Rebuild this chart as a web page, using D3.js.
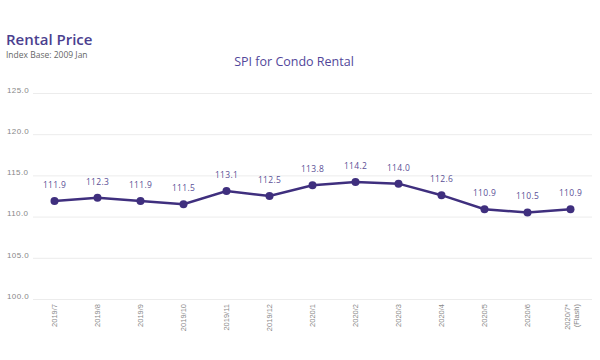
<!DOCTYPE html>
<html><head><meta charset="utf-8">
<script src="https://cdn.jsdelivr.net/npm/d3@7"></script>
<style>body{margin:0;background:#fff;} svg{display:block;font-family:"Open Sans",Lato,sans-serif;}</style>
</head><body>
<svg id="c" width="600" height="360"></svg>
<script>
const categories = ["2019/7","2019/8","2019/9","2019/10","2019/11","2019/12","2020/1","2020/2","2020/3","2020/4","2020/5","2020/6","2020/7*|(Flash)"];
const values = [111.9,112.3,111.9,111.5,113.1,112.5,113.8,114.2,114.0,112.6,110.9,110.5,110.9];
const yTicks = [100,105,110,115,120,125];

(function(){
const svg = d3.select("#c");
const mLeft = 33, mRight = 592, mTop = 93, mBottom = 299;
const x = d3.scalePoint().domain(categories).range([mLeft, mRight]).padding(0.5);
const y = d3.scaleLinear().domain([100,125]).range([mBottom, mTop]);

// titles
svg.append("text").attr("x",6).attr("y",45).attr("font-size",15).attr("font-weight",600).attr("fill","#4b3f8f").text("Rental Price");
svg.append("text").attr("x",6).attr("y",58).attr("font-size",8.5).attr("fill","#666").text("Index Base: 2009 Jan");
svg.append("text").attr("x",294).attr("y",66).attr("text-anchor","middle").attr("font-size",12.5).attr("fill","#52479a").text("SPI for Condo Rental");

// y axis
const yAxis = d3.axisLeft(y).tickValues(yTicks).tickSize(-(mRight-mLeft)).tickFormat(d3.format(".1f"));
const ga = svg.append("g").attr("transform",`translate(${mLeft},0)`).call(yAxis);
ga.select(".domain").remove();
ga.selectAll(".tick line").attr("stroke","#ececec").attr("stroke-width",1);
ga.selectAll(".tick text").attr("x",-26).attr("dy","-0.1em").attr("text-anchor","start").attr("fill","#888").attr("font-size",8).attr("letter-spacing",0.4);

// x axis
const xAxis = d3.axisBottom(x).tickSize(0).tickFormat(d => "");
const gx = svg.append("g").attr("transform",`translate(0,${mBottom})`).call(xAxis);
gx.select(".domain").remove();
gx.selectAll(".tick").each(function(d){
  const parts = d.split("|");
  const t = d3.select(this).append("text").attr("transform","rotate(-90)").attr("text-anchor","end")
    .attr("fill","#888").attr("font-size",7.5).attr("x",-5).attr("y",0);
  parts.forEach((p,i)=>{
    t.append("tspan").attr("x",-5).attr("dy", i===0 ? (parts.length>1 ? "-0.1em" : "0.32em") : "1.15em").text(p);
  });
});

// line
const line = d3.line().x((d,i)=>x(categories[i])).y(d=>y(d));
svg.append("path").datum(values).attr("d",line).attr("fill","none").attr("stroke","#3f2f7e").attr("stroke-width",2.5);
svg.selectAll("circle.pt").data(values).join("circle").attr("class","pt")
  .attr("cx",(d,i)=>x(categories[i])).attr("cy",d=>y(d)).attr("r",4).attr("fill","#3f2f7e");
svg.selectAll("text.lbl").data(values).join("text").attr("class","lbl")
  .attr("x",(d,i)=>x(categories[i])).attr("y",d=>y(d)-13).attr("text-anchor","middle")
  .attr("font-size",8.5).attr("letter-spacing",0.3).attr("fill","#5a4f96").text(d=>d3.format(".1f")(d));
})();
</script>
</body></html>
